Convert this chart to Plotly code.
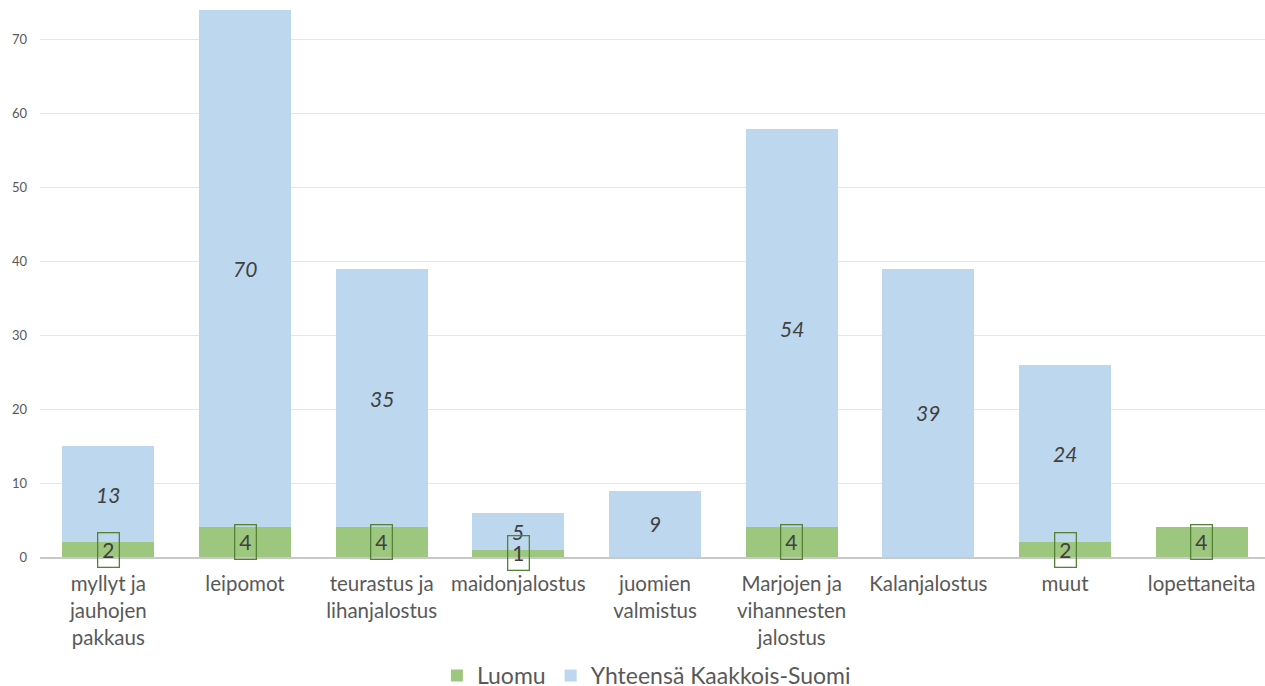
import plotly.graph_objects as go

categories = ["myllyt ja<br>jauhojen<br>pakkaus", "leipomot", "teurastus ja<br>lihanjalostus",
              "maidonjalostus", "juomien<br>valmistus", "Marjojen ja<br>vihannesten<br>jalostus",
              "Kalanjalostus", "muut", "lopettaneita"]
luomu = [2, 4, 4, 1, 0, 4, 0, 2, 4]
yhteensa = [13, 70, 35, 5, 9, 54, 39, 24, 0]

GREEN = "#9DC67E"
BLUE = "#BDD7EE"
FONT = "Lato"

fig = go.Figure()
fig.add_trace(go.Bar(x=categories, y=luomu, name="Luomu", marker=dict(color=GREEN, line=dict(width=0))))
fig.add_trace(go.Bar(x=categories, y=yhteensa, name="Yhteensä Kaakkois-Suomi",
                     marker=dict(color=BLUE, line=dict(width=0))))

annotations = []
for c, g, b in zip(categories, luomu, yhteensa):
    if b > 0:
        annotations.append(dict(x=c, y=g + b / 2, text=f"<i>{b}</i>", showarrow=False,
                                font=dict(family=FONT, size=21, color="#404040"),
                                xanchor="center", yanchor="middle"))
    if g > 0:
        annotations.append(dict(x=c, y=g / 2, text=str(g), showarrow=False,
                                font=dict(family=FONT, size=21, color="#404040"),
                                bordercolor="#548235", borderwidth=1.3, borderpad=4,
                                xanchor="center", yanchor="middle"))

fig.update_layout(
    barmode="stack",
    bargap=0.326,
    width=1270, height=686,
    margin=dict(l=40, r=0, t=3, b=129, autoexpand=False),
    plot_bgcolor="white", paper_bgcolor="white",
    font=dict(family=FONT, color="#595959"),
    annotations=annotations,
    legend=dict(orientation="h", x=0.493, xanchor="center", y=-0.214, yanchor="middle",
                font=dict(family=FONT, size=23, color="#595959"), traceorder="normal",
                itemwidth=30),
    showlegend=True,
)
fig.update_xaxes(tickfont=dict(family=FONT, size=20.5, color="#595959"), showline=True,
                 linecolor="#C8C8C8", linewidth=1.5, ticks="", tickangle=0,
                 automargin=False, ticklabelstandoff=8)
fig.update_yaxes(range=[0, 75], dtick=10, tick0=0, showgrid=True, gridcolor="#E6E6E6",
                 tickfont=dict(family=FONT, size=13, color="#595959"), zeroline=False,
                 ticks="", ticklabelstandoff=12, automargin=False)

fig.write_html("out.html", config={"displayModeBar": False},
               post_script="document.body.style.margin='0';document.body.style.overflow='hidden';")
